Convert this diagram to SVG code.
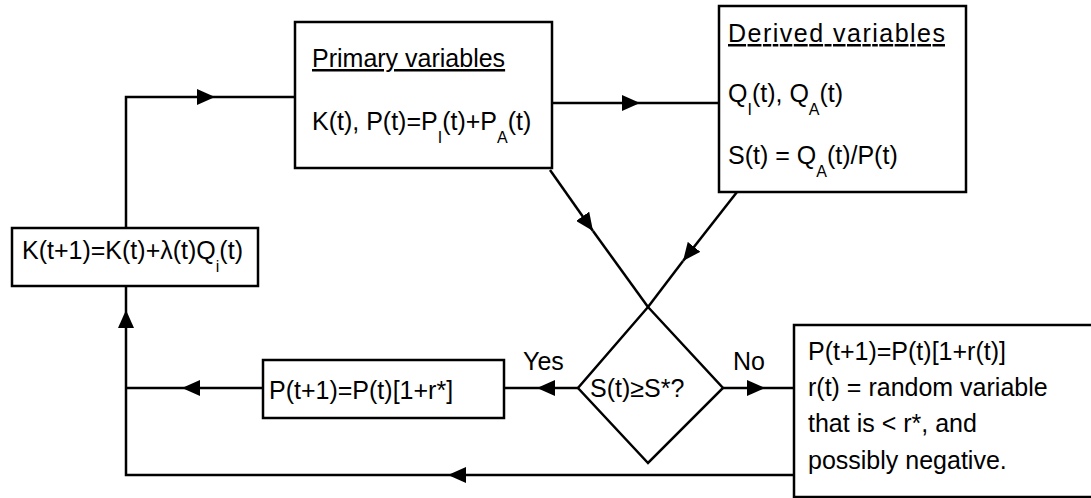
<svg xmlns="http://www.w3.org/2000/svg" width="1091" height="498" viewBox="0 0 1091 498">
<style>
.box{fill:#fff;stroke:#000;stroke-width:2.5}
.ln{fill:none;stroke:#000;stroke-width:2.5}
.t{font-family:"Liberation Sans",Arial,sans-serif;font-size:25px;fill:#000}
.s{font-size:16px}
.u{text-decoration:underline}
</style>
<defs>
<marker id="arr" viewBox="0 0 18 16" refX="18" refY="8" markerWidth="18" markerHeight="16" markerUnits="userSpaceOnUse" orient="auto">
<path d="M0,0 L18,8 L0,16 z" fill="#000"/>
</marker>
</defs>
<rect width="1091" height="498" fill="#fff"/>
<g id="connectors">
<path class="ln" d="M794,475 H448" marker-end="url(#arr)"/>
<path class="ln" d="M448,475 H126 V310" marker-end="url(#arr)"/>
<path class="ln" d="M126,310 V286"/>
<path class="ln" d="M263,388 H182" marker-end="url(#arr)"/>
<path class="ln" d="M182,388 H126"/>
<path class="ln" d="M126,228 V97 H215" marker-end="url(#arr)"/>
<path class="ln" d="M215,97 H295"/>
<path class="ln" d="M552,103 H640" marker-end="url(#arr)"/>
<path class="ln" d="M640,103 H719"/>
<path class="ln" d="M550,170 L593,231" marker-end="url(#arr)"/>
<path class="ln" d="M593,231 L648,307"/>
<path class="ln" d="M737,192 L683,261" marker-end="url(#arr)"/>
<path class="ln" d="M683,261 L648,307"/>
<path class="ln" d="M578,388 H537" marker-end="url(#arr)"/>
<path class="ln" d="M537,388 H504"/>
<path class="ln" d="M723,388 H765" marker-end="url(#arr)"/>
<path class="ln" d="M765,388 H794"/>
<text class="t" x="523" y="370">Yes</text>
<text class="t" x="733" y="370">No</text>
</g>
<g id="primary">
<rect class="box" x="295" y="22" width="257" height="146"/>
<text class="t u" x="312" y="67">Primary variables</text>
<text class="t" x="312" y="130">K(t), P(t)=P<tspan class="s" dy="13">I</tspan><tspan dy="-13">(t)+P</tspan><tspan class="s" dy="13">A</tspan><tspan dy="-13">(t)</tspan></text>
</g>
<g id="derived">
<rect class="box" x="719" y="6" width="247" height="186"/>
<text class="t u" x="728" y="42" textLength="217" lengthAdjust="spacing">Derived variables</text>
<text class="t" x="728" y="102">Q<tspan class="s" dy="13">I</tspan><tspan dy="-13">(t), Q</tspan><tspan class="s" dy="13">A</tspan><tspan dy="-13">(t)</tspan></text>
<text class="t" x="728" y="164">S(t) = Q<tspan class="s" dy="13">A</tspan><tspan dy="-13">(t)/P(t)</tspan></text>
</g>
<g id="kupdate">
<rect class="box" x="12" y="228" width="246" height="58"/>
<text class="t" x="22" y="259">K(t+1)=K(t)+λ(t)Q<tspan class="s" dy="13">i</tspan><tspan dy="-13">(t)</tspan></text>
</g>
<g id="pyes">
<rect class="box" x="263" y="360" width="241" height="58"/>
<text class="t" x="269" y="399">P(t+1)=P(t)[1+r*]</text>
</g>
<g id="decision">
<polygon class="box" points="648,307 723,388 648,463 578,388"/>
<text class="t" x="590" y="397">S(t)≥S*?</text>
</g>
<g id="pno">
<rect class="box" x="794" y="325" width="310" height="172"/>
<text class="t" x="808" y="360">P(t+1)=P(t)[1+r(t)]</text>
<text class="t" x="808" y="396">r(t) = random variable</text>
<text class="t" x="808" y="432">that is &lt; r*, and</text>
<text class="t" x="808" y="469">possibly negative.</text>
</g>
</svg>
